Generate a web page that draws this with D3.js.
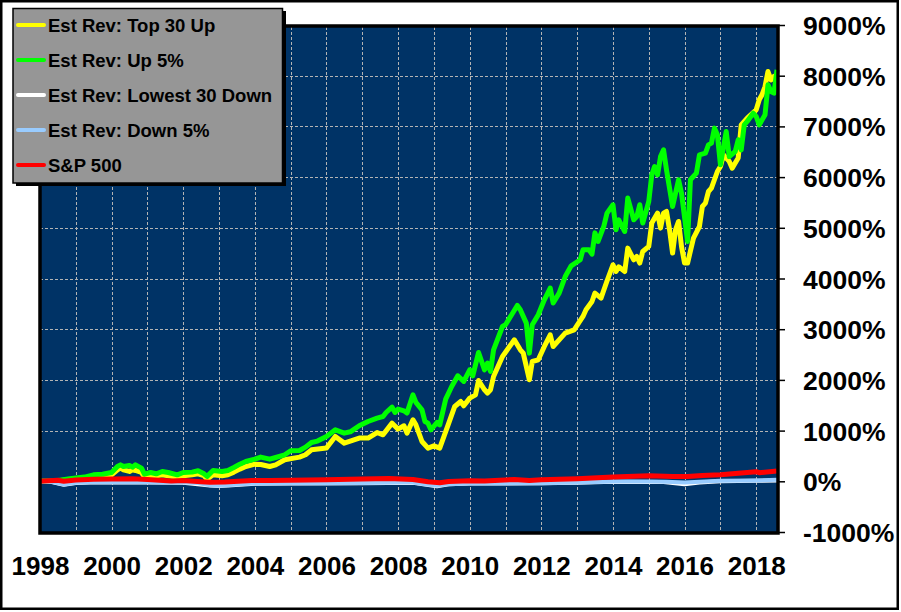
<!DOCTYPE html>
<html>
<head>
<meta charset="utf-8">
<script src="https://cdn.jsdelivr.net/npm/d3@7"></script>
<style>
  body { margin: 0; background: #fff; }
  svg { display: block; font-family: "Liberation Sans", Arial, sans-serif; }
</style>
</head>
<body>
<div id="chart"></div>
<script>
// Est Rev: Top 30 Up (cumulative % return)
var topDates = ["1998-01","1998-06","1998-11","1999-04","1999-07","1999-10","2000-01","2000-03","2000-04","2000-05","2000-07","2000-08","2000-09","2000-11","2000-12",
  "2001-02","2001-04","2001-06","2001-08","2001-11","2002-01","2002-04","2002-06","2002-08","2002-09","2002-11","2003-02","2003-04","2003-06","2003-08","2003-10",
  "2004-01","2004-03","2004-06","2004-08","2004-11","2005-04","2005-06","2005-08","2006-01","2006-04","2006-07","2006-12","2007-03","2007-06","2007-08","2007-11",
  "2008-01","2008-03","2008-04","2008-06","2008-07","2008-09","2008-11","2009-01","2009-03","2009-06","2009-08","2009-10","2009-11","2010-01","2010-03","2010-04",
  "2010-06","2010-07","2010-08","2010-09","2010-12","2011-04","2011-06","2011-07","2011-09","2011-10","2011-12","2012-02","2012-04","2012-05","2012-07","2012-09",
  "2012-12","2013-03","2013-04","2013-06","2013-07","2013-09","2013-11","2014-01","2014-02","2014-03","2014-05","2014-06","2014-08","2014-09","2014-10","2014-11",
  "2015-01","2015-02","2015-04","2015-05","2015-06","2015-07","2015-08","2015-09","2015-10","2015-11","2015-12","2016-01","2016-02","2016-04","2016-06","2016-07",
  "2016-08","2016-09","2016-10","2016-12","2017-01","2017-02","2017-04","2017-05","2017-07","2017-08","2017-10","2018-01","2018-02","2018-03","2018-04","2018-05",
  "2018-06","2018-07","2018-08"];
var topValues = [0,5,33,43,83,97,128,227,260,227,194,227,214,174,83,
  97,110,128,110,83,110,128,148,110,43,128,110,128,181,240,292,
  338,330,292,325,424,477,523,621,655,884,753,852,852,962,917,1147,
  1029,1095,950,1213,1114,785,655,700,655,1147,1476,1574,1489,1641,1706,1988,
  1805,1740,1805,2067,2462,2791,2594,2528,2002,2363,2396,2659,2890,2659,2791,2923,
  2988,3251,3383,3546,3712,3613,3950,4270,4138,4230,4138,4599,4369,4434,4304,4533,
  4632,5093,5290,4994,5290,5322,4961,4501,4961,5125,4632,4304,4304,4797,5026,5420,
  5487,5716,5783,6110,6209,6440,6308,6177,6375,7030,7164,7327,7525,7623,7787,8083,
  7919,7984,7853];

// Est Rev: Up 5%
var upDates = ["1998-01","1998-06","1998-11","1999-04","1999-07","1999-10","2000-01","2000-03","2000-04","2000-05","2000-07","2000-08","2000-09","2000-11","2000-12",
  "2001-02","2001-04","2001-06","2001-08","2001-11","2002-01","2002-04","2002-06","2002-08","2002-09","2002-11","2003-02","2003-04","2003-06","2003-08","2003-10",
  "2004-01","2004-03","2004-06","2004-08","2004-11","2005-01","2005-04","2005-06","2005-08","2005-10","2006-01","2006-04","2006-07","2006-09","2006-12","2007-03",
  "2007-06","2007-08","2007-09","2007-11","2007-12","2008-01","2008-03","2008-04","2008-06","2008-07","2008-09","2008-10","2008-11","2008-12","2009-02","2009-03",
  "2009-05","2009-07","2009-09","2009-11","2010-01","2010-02","2010-04","2010-06","2010-07","2010-08","2010-09","2010-12","2011-01","2011-05","2011-06","2011-08",
  "2011-09","2011-10","2011-12","2012-02","2012-04","2012-05","2012-07","2012-09","2012-11","2013-02","2013-03","2013-05","2013-06","2013-07","2013-08","2013-10",
  "2013-11","2014-01","2014-02","2014-03","2014-05","2014-06","2014-08","2014-09","2014-10","2014-11","2015-01","2015-02","2015-03","2015-04","2015-05","2015-06",
  "2015-07","2015-09","2015-11","2015-12","2016-02","2016-03","2016-05","2016-06","2016-08","2016-09","2016-10","2016-11","2016-12","2017-01","2017-03","2017-04",
  "2017-06","2017-07","2017-08","2017-09","2017-10","2017-12","2018-01","2018-02","2018-04","2018-05","2018-06","2018-07","2018-08"];
var upValues = [0,5,50,83,128,138,174,292,325,292,312,279,325,260,141,
  174,148,194,174,128,174,181,207,148,97,214,194,214,273,338,391,
  437,477,437,470,523,602,608,674,766,793,884,1016,950,976,1095,1180,
  1246,1278,1357,1464,1357,1424,1390,1345,1706,1555,1410,1180,1147,1016,1160,1114,
  1621,1870,2081,1969,2199,2081,2541,2199,2331,2166,2594,3053,3087,3468,3383,3120,
  2528,3087,3284,3580,3811,3515,3712,4039,4250,4369,4566,4566,4480,4900,4730,5040,
  5290,5454,4961,5158,4927,5586,5158,5223,5454,5093,5519,6045,6209,6045,6404,6538,
  6144,5420,5947,5684,4730,5947,6079,6440,6473,6637,6670,6966,6834,6243,6900,6404,
  6505,6736,6538,7030,7097,7261,7195,7030,7229,7821,7689,7656,8116];

// Est Rev: Lowest 30 Down
var lowDates = ["1998-01","1998-05","1998-09","1999-01","1999-06","2000-01","2001-01","2002-01","2002-10","2003-01","2003-04","2004-01","2005-01","2007-01",
  "2008-06","2009-02","2009-06","2010-01","2012-01","2013-01","2014-01","2015-06","2016-01","2016-06","2017-01","2018-01","2018-08"];
var lowValues = [0,-15,-70,-35,-25,-25,-25,-30,-85,-95,-85,-50,-45,-40,
  -30,-100,-60,-45,-40,-30,-10,-15,-60,-25,0,10,15];

// Est Rev: Down 5%
var downDates = ["1998-01","1998-05","1998-09","1999-01","1999-06","2000-01","2000-06","2001-01","2001-06","2002-01","2002-06","2002-10","2003-01","2003-04",
  "2003-08","2004-01","2005-01","2006-01","2007-01","2007-06","2008-01","2008-06","2008-10","2009-02","2009-06","2010-01","2011-01","2012-01","2013-01",
  "2014-01","2015-01","2015-07","2016-01","2016-06","2017-01","2018-01","2018-08"];
var downValues = [0,-10,-63,-30,-20,-20,-15,-20,-25,-25,-35,-80,-89,-80,
  -60,-45,-40,-38,-35,-30,-25,-24,-60,-89,-56,-43,-40,-37,-24,
  -4,-4,-8,-24,-10,10,17,30];

// S&P 500
var spDates = ["1998-01","1998-07","1998-09","1999-01","1999-07","2000-01","2000-08","2001-01","2001-09","2002-01","2002-07","2002-10","2003-03","2003-12",
  "2004-06","2005-01","2006-01","2007-01","2007-10","2008-06","2008-11","2009-03","2009-06","2010-01","2010-06","2011-04","2011-09","2012-01","2013-01",
  "2014-01","2015-01","2015-09","2016-02","2016-07","2017-01","2017-06","2018-01","2018-02","2018-08"];
var spValues = [0,20,0,25,40,45,50,35,5,15,-10,-20,-15,15,
  15,20,30,45,55,35,-10,-30,-5,10,5,35,15,30,50,
  85,110,95,95,115,130,155,190,170,205];

var seriesNames = ["Est Rev: Top 30 Up", "Est Rev: Up 5%", "Est Rev: Lowest 30 Down", "Est Rev: Down 5%", "S&P 500"];
var seriesColors = ["#ffff00", "#00ff00", "#ffffff", "#99ccff", "#ff0000"];
var yTicks = [-1000, 0, 1000, 2000, 3000, 4000, 5000, 6000, 7000, 8000, 9000];
var xTickYears = [1998, 2000, 2002, 2004, 2006, 2008, 2010, 2012, 2014, 2016, 2018];

var parse = d3.timeParse("%Y-%m");
function pairs(dates, values) {
  return dates.map(function(d, i) { return { date: parse(d), value: values[i] }; });
}
var series = [
  pairs(topDates, topValues),
  pairs(upDates, upValues),
  pairs(lowDates, lowValues),
  pairs(downDates, downValues),
  pairs(spDates, spValues)
];
var widths = [5, 5, 4, 4, 5];

var W = 901, H = 612;
var plot = { left: 40, right: 778, top: 25, bottom: 532 };

var svg = d3.select("#chart").append("svg").attr("width", W).attr("height", H);

// outer frame
svg.append("rect").attr("x", 1.25).attr("y", 1.25).attr("width", 896.5).attr("height", 607.5)
  .attr("fill", "#fff").attr("stroke", "#000").attr("stroke-width", 2.5);

var x = d3.scaleTime()
  .domain([parse("1998-01"), parse("2018-08")])
  .range([plot.left, plot.right - 1]);
var y = d3.scaleLinear().domain([-1000, 9000]).range([plot.bottom, plot.top]);

// plot background
svg.append("rect").attr("x", plot.left).attr("y", plot.top + 1)
  .attr("width", plot.right - plot.left).attr("height", plot.bottom - plot.top - 1)
  .attr("fill", "#003366");

// grid
var grid = svg.append("g").attr("stroke", "#b4b4b4").attr("stroke-width", 1).attr("stroke-dasharray", "3,2");
d3.range(1999, 2019).forEach(function(yr) {
  var gx = Math.round(x(new Date(yr, 0, 1))) + 0.5;
  grid.append("line").attr("x1", gx).attr("x2", gx).attr("y1", plot.top + 2).attr("y2", plot.bottom);
});
yTicks.slice(1, -1).forEach(function(v) {
  var gy = Math.round(y(v)) + 0.5;
  grid.append("line").attr("x1", plot.left).attr("x2", plot.right).attr("y1", gy).attr("y2", gy);
});

// lines
var line = d3.line().x(function(d) { return x(d.date); }).y(function(d) { return y(d.value); });
var lines = svg.append("g");
series.forEach(function(s, i) {
  lines.append("path").datum(s)
    .attr("fill", "none")
    .attr("stroke", seriesColors[i])
    .attr("stroke-width", widths[i])
    .attr("stroke-linejoin", "round")
    .attr("d", line);
});

// plot frame
svg.append("rect").attr("x", plot.left).attr("y", plot.top + 1)
  .attr("width", plot.right - plot.left).attr("height", plot.bottom - plot.top)
  .attr("fill", "none").attr("stroke", "#000").attr("stroke-width", 3.5);

// right axis
var yAxis = svg.append("g").attr("transform", "translate(" + (plot.right + 1) + ",0)")
  .call(d3.axisRight(y).tickValues(yTicks).tickSize(6).tickFormat(function(d) { return d + "%"; }));
yAxis.select(".domain").remove();
yAxis.selectAll(".tick line").attr("stroke", "#000").attr("stroke-width", 1.5);
yAxis.selectAll(".tick text")
  .attr("x", 24).attr("dy", "0.36em")
  .attr("text-anchor", "start")
  .attr("font-family", "'Liberation Sans', Arial, sans-serif")
  .attr("font-size", 26.5).attr("font-weight", "bold").attr("fill", "#000");

// bottom axis
var xAxis = svg.append("g").attr("transform", "translate(0," + plot.bottom + ")")
  .call(d3.axisBottom(x).tickValues(xTickYears.map(function(yr) { return new Date(yr, 0, 1); }))
    .tickSize(0).tickFormat(d3.timeFormat("%Y")));
xAxis.select(".domain").remove();
xAxis.selectAll(".tick text")
  .attr("y", 43).attr("dy", 0)
  .attr("font-family", "'Liberation Sans', Arial, sans-serif")
  .attr("font-size", 26).attr("font-weight", "bold").attr("fill", "#000");

// legend
var lg = svg.append("g");
lg.append("rect").attr("x", 16).attr("y", 11).attr("width", 270).attr("height", 175).attr("fill", "#000");
lg.append("rect").attr("x", 13).attr("y", 8.5).attr("width", 269.5).attr("height", 174.5)
  .attr("fill", "#969696").attr("stroke", "#000").attr("stroke-width", 1.5);
seriesNames.forEach(function(name, i) {
  var ly = 25 + i * 35;
  lg.append("line").attr("x1", 18).attr("x2", 44).attr("y1", ly).attr("y2", ly)
    .attr("stroke", seriesColors[i]).attr("stroke-width", 4).attr("stroke-linecap", "round");
  lg.append("text").attr("x", 48).attr("y", ly + 6.5)
    .attr("font-size", 18.5).attr("font-weight", "bold").attr("fill", "#000")
    .text(name);
});
</script>
</body>
</html>
